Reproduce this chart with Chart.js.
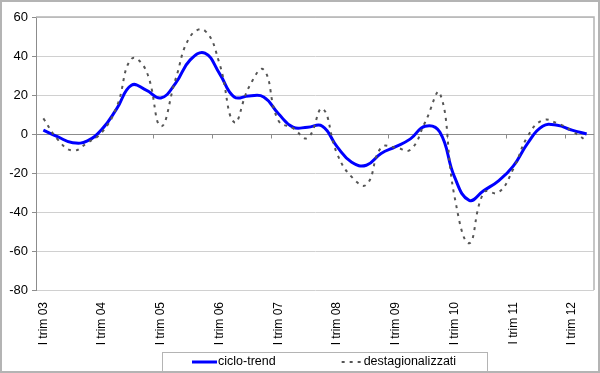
<!DOCTYPE html>
<html>
<head>
<meta charset="utf-8">
<script src="https://cdn.jsdelivr.net/npm/chart.js@4.4.1/dist/chart.umd.min.js"></script>
<style>
  html, body { margin: 0; padding: 0; background: #fff; }
</style>
</head>
<body>
<canvas id="trendChart" width="600" height="373"></canvas>
<script>
// quarters from I trim 03 to II trim 12
const years = ['03', '04', '05', '06', '07', '08', '09', '10', '11', '12'];
const romans = ['I', 'II', 'III', 'IV'];
const quarters = [];
years.forEach(y => romans.forEach(r => quarters.push(r + ' trim ' + y)));
quarters.length = 38;

const cicloTrend = [
  2, -1.5, -4.5, -3.5, 2.5, 13, 25, 22.5,
  18.5, 26, 38, 41.5, 31, 19, 19.5, 19,
  10.5, 3.5, 3.5, 4, -6.5, -14.5, -16, -10,
  -6.5, -2.5, 4, 1, -22, -34, -29, -24,
  -16.5, -4.5, 4, 4.5, 2, 0
];
const destagionalizzati = [
  8, -3, -8.5, -4.5, 1, 14, 38.5, 32.5,
  4, 28, 50, 53, 36, 6, 24, 33,
  7, 3, -2, 13, -10, -22, -26, -7,
  -7, -8, 6, 21, -32, -56, -30, -30,
  -18, -1, 7, 5.5, 1.5, -3.5
];
const yMin = -80, yMax = 60, yStep = 20;

const FONT = 'Liberation Sans, Arial, sans-serif';

const extras = {
  id: 'extras',
  beforeDatasetsDraw(chart) {
    const {ctx, chartArea: a, scales: {x, y}} = chart;
    ctx.save();
    // plot frame top / right
    ctx.strokeStyle = '#b4b4b4';
    ctx.lineWidth = 1.5;
    ctx.beginPath();
    ctx.moveTo(a.left, a.top);
    ctx.lineTo(a.right, a.top);
    ctx.lineTo(a.right, a.bottom);
    ctx.stroke();
    // category axis sits on the zero line, tick marks every year
    const y0 = Math.round(y.getPixelForValue(0)) + 0.5;
    ctx.strokeStyle = '#8c8c8c';
    ctx.lineWidth = 1;
    ctx.beginPath();
    ctx.moveTo(a.left, y0);
    ctx.lineTo(a.right, y0);
    for (let i = 4; i < quarters.length; i += 4) {
      const xx = Math.round((x.getPixelForValue(i - 1) + x.getPixelForValue(i)) / 2) + 0.5;
      ctx.moveTo(xx, y0);
      ctx.lineTo(xx, y0 + 4);
    }
    ctx.stroke();
    ctx.restore();
  },
  afterDraw(chart) {
    const {ctx, width, height} = chart;
    ctx.save();
    // legend
    const box = {left: 162, top: 352, right: 487, bottom: 371};
    ctx.strokeStyle = '#b4b4b4';
    ctx.lineWidth = 1;
    ctx.strokeRect(box.left + 0.5, box.top + 0.5, box.right - box.left, box.bottom - box.top);
    ctx.font = '12.5px ' + FONT;
    ctx.textBaseline = 'middle';
    ctx.fillStyle = '#000';
    const cy = (box.top + box.bottom) / 2 + 0.5;
    let lx = box.left + 30;
    chart.data.datasets.forEach((ds, i) => {
      ctx.strokeStyle = ds.borderColor;
      ctx.lineWidth = ds.borderWidth;
      ctx.setLineDash(ds.borderDash || []);
      ctx.beginPath();
      ctx.moveTo(lx, cy);
      ctx.lineTo(lx + (i === 0 ? 25 : 20), cy);
      ctx.stroke();
      ctx.setLineDash([]);
      const tx = lx + (i === 0 ? 26 : 22);
      ctx.fillText(ds.label, tx, cy);
      lx = tx + ctx.measureText(ds.label).width + 66;
    });
    // outer frame
    ctx.strokeStyle = '#b4b4b4';
    ctx.lineWidth = 2;
    ctx.strokeRect(1, 1, width - 2, height - 2);
    ctx.restore();
  }
};

new Chart(document.getElementById('trendChart').getContext('2d'), {
  type: 'line',
  data: {
    labels: quarters,
    datasets: [
      {
        label: 'ciclo-trend',
        data: cicloTrend,
        borderColor: '#0000ff',
        borderWidth: 3,
        pointRadius: 0,
        tension: 0.45,
        order: 1
      },
      {
        label: 'destagionalizzati',
        data: destagionalizzati,
        borderColor: '#555555',
        borderWidth: 2,
        borderDash: [3, 5],
        pointRadius: 0,
        tension: 0.45,
        order: 0
      }
    ]
  },
  options: {
    responsive: false,
    animation: false,
    layout: { padding: { top: 17, right: 6, left: 0, bottom: 0 } },
    plugins: {
      legend: { display: false },
      tooltip: { enabled: false }
    },
    scales: {
      x: {
        offset: true,
        grid: { display: false },
        border: { display: false },
        ticks: {
          autoSkip: false,
          minRotation: 90,
          maxRotation: 90,
          padding: 4,
          color: '#000',
          font: { family: FONT, size: 12 },
          callback: function (v, i) { return i % 4 === 0 ? this.getLabelForValue(v) : ''; }
        },
        afterFit: s => { s.height = 83; s.paddingLeft = 0; s.paddingRight = 0; }
      },
      y: {
        min: yMin,
        max: yMax,
        ticks: {
          stepSize: yStep,
          padding: 4,
          color: '#000',
          font: { family: FONT, size: 13 }
        },
        grid: {
          color: '#d0d0d0',
          tickLength: 4,
          tickColor: '#8c8c8c'
        },
        border: { color: '#8c8c8c' },
        afterFit: s => { s.width = 36; s.paddingTop = 0; s.paddingBottom = 0; }
      }
    }
  },
  plugins: [extras]
});
</script>
</body>
</html>
